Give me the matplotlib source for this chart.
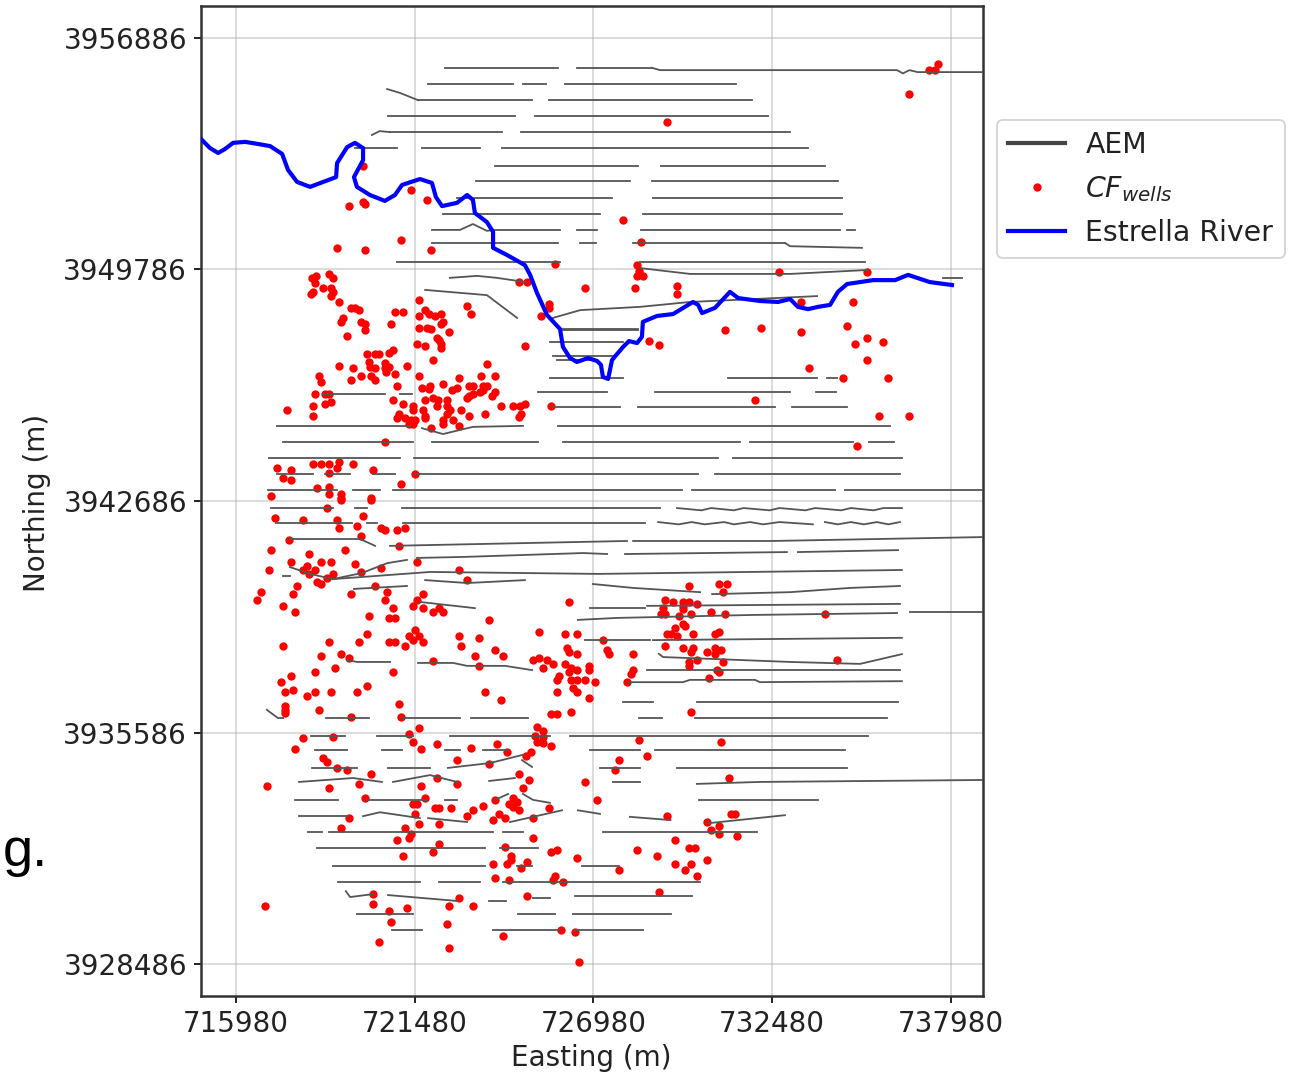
import numpy as np
import matplotlib
matplotlib.use("Agg")
import matplotlib.pyplot as plt
from matplotlib.lines import Line2D

# map coordinates are kept as km above these two bases
base_e = 700000
base_n = 3900000

x_ticks = [715980, 721480, 726980, 732480, 737980]
y_ticks = [3928486, 3935586, 3942686, 3949786, 3956886]

well_e = [
    19.89,21.36,21.86,19.46,19.89,19.95,21.06,19.09,19.95,21.98,
    29.24,37.58,37.49,37.30,36.69,27.89,28.44,
    25.80,18.44,18.32,18.84,18.96,18.41,24.69,24.93,26.72,18.66,
    18.90,18.35,18.29,18.96,18.90,19.15,21.61,25.61,25.61,23.09,
    19.52,19.64,19.76,20.87,21.12,21.80,21.92,22.10,22.29,21.61,
    23.21,25.36,19.27,19.21,19.83,19.95,20.75,22.35,22.29,21.61,
    21.86,21.98,19.95,22.53,19.40,22.16,22.23,21.55,21.80,22.29,
    22.29,24.87,20.81,20.69,20.01,20.26,20.38,22.04,20.07,20.56,
    23.70,19.15,21.24,19.58,20.10,20.26,20.56,20.69,20.60,20.87,
    18.53,19.83,20.13,21.61,23.52,23.95,22.84,19.52,20.26,18.60,
    22.35,20.93,21.70,21.95,21.92,22.78,22.63,23.15,23.27,23.58,
    23.70,23.58,23.49,23.95,23.86,23.27,23.15,23.09,18.41,18.72,
    18.84,20.81,21.80,22.04,22.20,22.47,21.12,21.43,22.16,22.47,
    18.35,18.72,18.90,24.13,24.50,24.72,24.87,25.67,17.55,21.43,
    21.73,22.56,22.90,18.35,21.00,21.80,22.47,23.15,23.64,24.75,
    24.69,20.93,21.18,21.36,21.49,21.80,22.35,22.66,21.30,21.43,
    22.35,22.84,21.98,20.56,18.35,18.60,18.84,19.15,19.58,19.09,
    17.24,17.67,20.20,18.84,21.49,17.43,17.67,21.06,18.47,18.84,
    19.21,18.84,20.13,17.06,19.21,
    28.32,28.38,28.32,28.50,28.26,32.69,35.40,29.55,29.55,33.37,
    34.96,28.69,29.00,31.03,32.13,33.37,34.78,35.40,35.89,35.03,
    35.40,33.61,34.66,36.04,31.95,35.76,36.69,35.09,
    18.78,19.21,20.13,17.18,18.04,19.09,19.89,19.70,19.15,20.44,
    20.56,20.93,21.18,19.83,17.61,21.00,17.06,18.23,19.33,17.67,
    18.60,18.90,19.64,21.55,18.16,16.99,18.04,18.41,20.44,22.84,
    18.23,18.96,19.83,18.78,23.09,18.47,18.60,17.86,20.26,20.63,
    16.75,17.73,19.52,21.73,16.63,20.56,21.55,26.23,17.43,20.81,
    21.43,21.73,22.23,22.04,22.35,17.80,20.07,20.69,20.87,23.77,
    21.49,25.30,20.01,21.30,21.61,22.84,26.10,26.47,23.46,21.43,
    21.73,18.84,19.76,20.69,20.87,17.43,21.18,22.90,26.17,23.95,
    26.23,26.47,19.21,18.60,19.46,23.33,24.20,22.04,25.12,25.30,
    25.55,25.73,23.46,26.10,26.84,19.03,25.43,26.29,26.47,26.84,
    20.81,18.41,26.23,17.67,25.92,25.86,26.29,26.47,26.72,27.03,
    17.36,20.01,26.35,17.73,17.49,18.41,18.90,19.70,23.64,26.47,
    25.86,18.16,26.84,24.13,21.00,17.49,17.49,17.49,18.53,26.29,
    25.67,25.86,19.52,21.06,21.61,25.24,25.43,21.30,18.04,18.96,
    25.18,25.43,21.43,22.16,24.01,25.24,25.43,17.80,25.67,21.67,
    23.21,
    27.27,27.40,27.46,28.20,28.20,28.13,28.01,29.92,30.84,31.09,
    30.97,29.18,29.43,29.73,29.92,30.16,29.73,29.12,29.73,29.06,
    29.18,29.61,29.98,30.60,31.03,34.10,29.73,29.80,29.49,29.24,
    29.37,29.55,30.04,30.72,30.84,29.18,29.73,30.04,30.72,30.90,
    29.98,30.47,30.72,34.47,30.16,29.92,30.97,29.92,30.78,30.84,
    30.53,29.98,28.38,30.90,
    18.66,18.78,19.09,19.40,20.13,22.78,23.77,24.32,24.90,25.06,
    24.69,25.00,26.72,22.16,19.76,21.67,22.78,16.93,18.84,24.81,
    21.80,19.95,23.95,24.50,27.09,21.43,21.55,24.38,24.63,22.10,
    22.23,22.60,23.58,24.50,24.69,25.61,23.27,21.49,23.09,24.07,
    24.26,25.12,19.46,23.89,21.61,22.23,19.21,21.18,21.36,21.30,
    20.93,25.12,22.23,24.26,22.04,25.67,25.86,21.12,24.44,24.44,
    26.47,23.89,24.32,24.93,24.75,23.95,24.38,25.80,25.73,26.04,
    20.20,22.84,24.93,16.87,20.20,21.24,20.69,22.53,23.27,20.75,
    22.47,25.98,26.41,24.20,20.38,22.53,26.53,
    27.77,28.63,27.64,31.15,31.21,31.33,29.24,30.47,30.84,30.60,
    30.84,31.40,29.49,29.92,30.10,28.32,28.93,30.47,29.49,29.98,
    29.80,27.77,30.16,29.00,
]
well_n = [
    52.96,52.22,51.92,51.73,51.86,51.80,50.69,50.45,50.38,50.38,
    54.31,56.09,55.90,55.90,55.17,51.30,50.63,
    49.95,49.59,49.53,49.65,49.53,49.37,49.40,49.40,49.22,49.22,
    49.22,49.10,49.04,49.10,48.97,48.79,48.85,48.73,48.61,48.67,
    48.61,48.61,48.54,48.48,48.48,48.54,48.42,48.36,48.42,48.36,
    48.42,48.36,48.30,48.18,48.18,48.11,48.11,48.18,48.11,47.99,
    47.99,47.96,47.93,47.87,47.75,47.69,47.62,47.50,47.44,47.50,
    47.38,47.44,47.32,47.22,47.19,47.19,47.19,47.01,46.95,46.92,
    46.89,46.83,46.83,46.77,46.80,46.77,46.77,46.80,46.64,46.58,
    46.52,46.52,46.52,46.52,46.52,46.52,46.46,46.40,46.40,46.34,
    46.27,46.21,46.15,46.21,46.12,46.15,46.09,46.21,46.21,46.21,
    46.21,46.09,46.03,46.03,45.91,45.97,45.91,45.85,45.97,45.97,
    45.97,45.78,45.78,45.85,45.78,45.78,45.66,45.60,45.60,45.60,
    45.60,45.66,45.72,45.60,45.60,45.60,45.66,45.60,45.48,45.48,
    45.48,45.48,45.48,45.29,45.35,45.29,45.35,45.29,45.35,45.35,
    45.26,45.23,45.23,45.17,45.17,45.23,45.17,45.17,45.05,45.05,
    45.05,44.99,44.92,44.49,43.82,43.82,43.82,43.88,43.82,43.70,
    43.70,43.64,43.64,43.54,43.51,43.39,43.33,43.21,43.09,43.12,
    42.90,42.90,42.78,42.84,42.78,
    49.92,49.74,49.59,49.59,49.22,49.71,49.71,49.28,49.04,48.79,
    48.79,47.59,47.47,47.93,47.99,47.87,48.05,47.69,47.56,47.50,
    47.01,46.77,46.46,46.46,45.78,45.29,45.29,44.37,
    42.47,42.72,42.72,42.17,42.10,42.10,42.23,41.92,41.86,41.86,
    41.80,41.80,41.86,41.61,41.49,41.31,41.18,41.06,41.18,40.81,
    40.81,40.81,40.75,40.81,40.69,40.57,40.57,40.57,40.63,40.57,
    40.45,40.45,40.51,40.33,40.26,40.20,40.14,40.08,40.08,39.89,
    39.89,39.83,39.83,39.83,39.65,39.65,39.65,39.59,39.47,39.40,
    39.47,39.40,39.40,39.28,39.28,39.28,39.16,39.10,39.10,39.04,
    38.73,38.67,38.61,38.55,38.55,38.55,38.61,38.61,38.49,38.42,
    38.36,38.36,38.36,38.36,38.36,38.24,38.24,38.24,38.18,38.12,
    38.05,37.99,37.99,37.93,37.87,37.93,37.93,37.78,37.81,37.87,
    37.81,37.69,37.63,37.69,37.63,37.56,37.56,37.56,37.50,37.50,
    37.44,37.44,37.44,37.32,37.32,37.20,37.20,37.20,37.20,37.13,
    37.13,37.01,36.95,36.89,36.83,36.83,36.83,36.83,36.83,36.83,
    36.83,36.71,36.64,36.58,36.46,36.40,36.28,36.18,36.28,36.21,
    36.15,36.15,36.06,36.06,35.72,35.75,35.63,35.54,35.42,35.45,
    35.48,35.45,35.29,35.23,35.23,35.29,35.26,35.08,35.17,35.08,
    35.11,
    38.42,38.12,37.99,37.99,37.50,37.38,37.13,40.08,40.14,40.14,
    39.89,39.65,39.59,39.59,39.59,39.53,39.47,39.40,39.37,39.22,
    39.22,39.16,39.22,39.28,39.22,39.22,38.91,38.85,38.79,38.61,
    38.61,38.55,38.61,38.61,38.67,38.24,38.18,38.18,38.18,38.12,
    38.05,38.05,37.99,37.81,37.81,37.75,37.75,37.63,37.50,37.44,
    37.26,36.21,35.36,35.29,
    34.80,34.68,34.50,34.44,34.31,34.74,34.62,34.99,34.87,34.99,
    34.31,34.13,34.07,34.19,34.01,33.95,34.01,33.95,33.88,33.88,
    33.58,33.58,33.52,33.58,33.52,33.39,33.39,33.39,33.45,33.27,
    33.27,33.27,33.33,33.30,33.21,33.27,33.21,33.09,33.02,33.09,
    32.96,32.96,32.96,32.90,32.78,32.78,32.66,32.66,32.47,32.35,
    32.29,32.35,32.17,32.07,31.92,31.92,31.98,31.80,31.80,31.68,
    31.74,31.55,31.55,31.61,31.43,31.12,31.06,31.18,31.06,31.00,
    30.63,30.51,30.57,30.26,30.33,30.20,30.11,30.26,30.26,29.77,
    29.71,29.53,29.47,29.35,29.16,28.98,28.55,
    34.74,34.87,34.44,34.19,33.09,33.09,33.02,32.84,32.72,32.59,
    32.47,32.41,32.29,32.04,32.04,31.98,31.80,31.68,31.55,31.55,
    31.37,31.37,31.18,30.69,
]

river_e = [14.93,15.18,15.43,15.64,15.89,16.26,16.63,17.03,17.40,17.58,17.86,18.26,18.66,19.06,19.09,
           19.40,19.64,19.89,19.89,19.61,19.70,20.10,20.56,20.87,21.09,21.64,22.01,22.13,22.32,22.78,
           23.09,23.27,23.33,23.70,23.89,23.89,24.32,24.87,25.03,25.24,25.55,25.95,26.04,26.26,26.47,
           26.81,27.09,27.21,27.27,27.43,27.55,27.89,28.07,28.32,28.47,28.50,28.93,29.43,30.04,30.20,
           30.32,30.72,31.18,31.43,32.10,32.66,33.03,33.27,33.58,33.89,34.26,34.50,34.78,35.58,36.26,
           36.66,37.33,38.01]
river_n = [53.76,53.51,53.36,53.48,53.67,53.70,53.64,53.57,53.33,52.84,52.47,52.32,52.47,52.62,53.05,
           53.54,53.67,53.51,53.14,52.62,52.32,52.07,51.89,52.07,52.38,52.56,52.44,52.01,51.73,51.83,
           52.07,51.92,51.52,51.24,50.94,50.45,50.23,49.92,49.62,49.07,48.39,47.96,47.41,47.07,46.95,
           47.07,46.98,46.86,46.49,46.43,47.01,47.41,47.59,47.53,47.72,48.18,48.36,48.42,48.79,48.70,
           48.45,48.61,49.10,48.91,48.82,48.79,48.88,48.64,48.57,48.64,48.70,49.10,49.34,49.46,49.46,
           49.62,49.40,49.31]

# flight lines: northing of a row and the (start, end) eastings flown along it
aem_rows = [55.97,55.48,54.98,54.49,54.00,53.51,52.96,52.50,51.98,51.49,51.00,50.60,50.02,47.96,47.93,47.56,
            47.13,47.01,46.46,46.03,45.97,45.57,44.99,44.49,44.00,43.51,43.02,42.47,42.01,37.50,36.52,36.03,
            35.48,35.05,34.50,33.52,33.02,32.53,32.04,31.49,31.00,30.02,29.53]
aem_spans = [
    [(22.41,25.89),(26.47,28.78)],
    [(21.89,24.50),(24.81,25.52),(26.10,31.37)],
    [(21.58,25.09),(25.61,31.86)],
    [(20.66,24.56),(25.18,32.35)],
    [(20.72,24.16),(24.75,33.03)],
    [(19.64,20.93),(21.70,23.49),(24.17,33.58)],
    [(23.95,28.35),(29.06,34.10)],
    [(23.37,28.10),(28.78,34.50)],
    [(22.78,27.55),(28.81,34.63)],
    [(22.35,27.18),(28.50,34.63)],
    [(23.89,25.95),(26.47,27.09),(28.44,34.57),(34.78,35.03)],
    [(22.01,25.89),(26.57,27.06),(28.20,32.87)],
    [(20.93,25.95),(28.41,35.33)],
    [(26.01,28.35)],
    [(26.01,28.35)],
    [(25.64,27.89)],
    [(25.73,27.64)],
    [(25.86,26.87)],
    [(25.64,27.89),(31.12,33.86),(34.17,34.47)],
    [(25.27,27.40),(28.87,33.03),(33.83,34.44)],
    [(18.66,20.56),(21.03,21.40)],
    [(25.73,27.80),(28.35,32.56),(33.09,34.78)],
    [(17.24,21.33),(25.89,36.10)],
    [(17.43,21.43),(22.01,25.27),(26.04,31.49),(31.80,34.97),(35.46,36.23)],
    [(17.00,21.03),(21.46,30.81),(31.27,36.47)],
    [(17.24,18.35),(18.72,19.49),(20.20,20.87),(21.49,30.20),(30.72,36.41)],
    [(16.96,19.09),(19.58,20.41),(20.81,29.70),(30.01,34.41),(34.72,38.96)],
    [(17.06,18.96),(19.64,20.01),(21.09,29.03)],
    [(17.21,19.55),(20.01,20.32),(21.12,28.56)],
    [(28.63,36.41)],
    [(27.89,28.81),(30.16,36.34)],
    [(28.38,29.09),(30.10,36.01),(18.74,20.06),(21.09,22.87),(23.21,24.96)],
    [(18.29,19.33),(20.32,21.43),(22.56,25.64),(26.26,35.43)],
    [(18.41,19.40),(20.47,21.09),(22.41,22.87),(23.58,24.32),(26.87,28.41),(28.87,34.72)],
    [(18.32,19.70),(20.66,21.95),(27.18,28.41),(29.55,34.78)],
    [(17.80,19.12),(20.01,21.86),(22.41,22.78),(30.23,33.89)],
    [(17.92,19.43)],
    [(18.20,18.63),(18.84,23.89),(24.20,24.81),(27.27,32.01)],
    [(18.47,23.64),(24.10,25.27)],
    [(18.96,23.64),(24.63,25.09),(26.63,27.75)],
    [(19.12,21.64),(22.23,23.49),(24.20,30.26)],
    [(19.70,21.43),(24.66,25.80),(26.35,29.35)],
    [(20.78,21.70),(23.89,25.95),(26.41,28.50)],
]

# the parts of the flight lines that bend
aem_bent_e = [
    [28.78,29.03,36.32,36.50,36.70,36.95,38.96],
    [20.63,21.03,21.58],
    [20.16,20.40,20.72],
    [22.01,22.87,23.27,23.70,23.89],
    [32.87,33.03,35.24],
    [22.56,23.40,24.00,24.90],
    [28.41,29.95,33.03,35.40],
    [37.73,38.32],
    [21.80,23.70,24.63],
    [25.73,26.57,28.41,29.95,31.27,33.86],
    [21.70,22.35,23.27,24.81],
    [17.64,19.80,20.26],
    [20.72,28.01],
    [28.20,32.47,38.96],
    [17.43,17.64],
    [17.64,18.26,18.96,19.86,20.63,21.24],
    [21.55,22.96,26.66,27.40],
    [27.95,30.47,32.93],
    [33.27,36.35],
    [18.96,21.95,27.12,36.47],
    [19.61,21.24],
    [21.80,23.09,24.87],
    [26.96,28.20,30.26],
    [30.63,33.03,34.87,36.41],
    [21.64,23.33],
    [26.87,28.56],
    [28.63,36.41],
    [26.50,27.70,31.80,36.32],
    [36.72,38.96],
    [26.72,28.72],
    [28.81,36.47],
    [28.99,29.12,33.03,35.18,36.47],
    [28.04,29.73,29.95,31.95,32.10,36.47],
    [19.40,19.70,20.72],
    [21.58,22.66,23.09,24.26,25.09],
    [29.55,30.30,30.60,31.30,31.60,32.40,32.70,33.50,33.80,34.60,34.90,35.60,35.90,36.47],
    [28.97,29.60,30.00,30.40,31.00,31.30,31.80,32.20,32.70,33.73],
    [34.10,34.50,34.90,35.30,35.70,36.05,36.41],
    [16.93,17.27,17.43],
    [22.50,23.80,24.80],
    [24.78,25.09],
    [17.92,19.58,20.47],
    [20.81,21.95,22.78],
    [23.77,24.56],
    [27.58,28.41],
    [30.16,32.10,38.96],
    [23.95,24.35],
    [24.81,25.12,25.64],
    [19.89,20.41,21.64],
    [21.89,23.09],
    [24.41,25.12,26.01],
    [26.50,27.18],
    [28.10,29.35],
    [30.47,32.01,32.87],
    [19.36,19.49,20.20],
    [20.66,22.78],
    [23.77,24.29],
    [25.12,25.64],
    [26.41,30.01],
]
aem_bent_n = [
    [55.97,55.90,55.90,55.80,55.90,55.84,55.84],
    [55.32,55.20,54.98],
    [53.91,54.03,54.00],
    [51.00,51.00,51.18,50.97,51.00],
    [50.60,50.50,50.45],
    [49.53,49.59,49.53,49.40],
    [49.83,49.65,49.65,49.77],
    [49.53,49.53],
    [49.16,49.00,48.30],
    [48.30,48.54,48.64,48.79,48.85,48.97],
    [44.92,44.74,44.96,44.99],
    [41.52,41.52,41.31],
    [41.31,41.46],
    [41.46,41.46,41.58],
    [40.38,40.38],
    [40.66,40.45,40.29,40.48,40.78,40.88],
    [40.94,40.97,41.09,41.06],
    [41.06,41.09,41.12],
    [41.12,41.18],
    [40.29,40.51,40.45,40.57],
    [39.99,40.08],
    [40.26,40.17,40.26],
    [40.14,40.02,39.89],
    [39.83,39.89,40.02,40.08],
    [39.59,39.40],
    [39.40,39.40],
    [39.47,39.53],
    [39.04,39.10,39.19,39.25],
    [39.28,39.28],
    [38.42,38.42],
    [38.42,38.49],
    [38.00,37.90,37.75,37.69,37.99],
    [37.13,37.13,37.20,37.20,37.13,37.16],
    [37.81,37.75,37.75],
    [37.72,37.72,37.63,37.63,37.50],
    [42.47,42.40,42.47,42.40,42.47,42.40,42.47,42.40,42.47,42.40,42.47,42.40,42.47,42.47],
    [42.04,41.97,42.04,41.97,42.04,41.97,42.04,41.97,42.04,41.97],
    [42.04,41.97,42.04,41.97,42.04,41.97,42.04],
    [36.28,36.03,36.03],
    [34.50,34.65,34.90],
    [34.74,34.53],
    [34.07,34.19,34.07],
    [34.07,34.28,34.07],
    [34.10,34.19],
    [34.07,34.07],
    [34.01,34.07,34.13],
    [33.52,33.70],
    [33.70,33.52,33.43],
    [33.02,33.14,32.96],
    [32.96,32.84],
    [32.84,33.00,33.20],
    [33.20,33.09],
    [33.00,32.90],
    [32.80,32.96,33.05],
    [30.72,30.54,30.63],
    [30.60,30.42],
    [30.42,30.42],
    [30.50,30.50],
    [30.56,30.56],
]

fig = plt.figure(figsize=(12.92, 10.75), dpi=100)
ax = fig.add_axes([201/1292, 79/1075, 782/1292, 990/1075])

ax.plot(np.array(well_e)*1000 + base_e, np.array(well_n)*1000 + base_n, 'o', color='red', ms=6.0, mew=0, zorder=2)

aem_color = '#555555'
for row, spans in zip(aem_rows, aem_spans):
    for start, end in spans:
        ax.plot([start*1000 + base_e, end*1000 + base_e], [row*1000 + base_n]*2, color=aem_color, lw=1.3, zorder=3)
for e, n in zip(aem_bent_e, aem_bent_n):
    ax.plot(np.array(e)*1000 + base_e, np.array(n)*1000 + base_n, color=aem_color, lw=1.3, zorder=3)

ax.plot(np.array(river_e)*1000 + base_e, np.array(river_n)*1000 + base_n, color='blue', lw=3.0, zorder=4,
        solid_joinstyle='round')

ax.set_xlim(714903, 738965)
ax.set_ylim(3927505, 3957867)
ax.set_xticks(x_ticks)
ax.set_yticks(y_ticks)
ax.ticklabel_format(useOffset=False, style='plain')
ax.tick_params(labelsize=20, length=5, width=1.4, pad=5, color='#222222', labelcolor='#222222')
ax.grid(True, color='#b0b0b0', alpha=0.45, lw=1.4)
ax.set_axisbelow(True)
for s in ax.spines.values():
    s.set_linewidth(1.8)
    s.set_color('#333333')

fig.text(591/1292, 1-1058.5/1075, 'Easting (m)', fontsize=20, color='#222222', ha='center', va='center')
fig.text(37/1292, 1-503/1075, 'Northing (m)', fontsize=20, color='#222222', ha='center', va='center', rotation=90)
fig.text(3/1292, 1-866/1075, 'g.', fontsize=39, family='Liberation Sans', color='black', ha='left', va='baseline')

handles = [
    Line2D([], [], color='#444444', lw=3),
    Line2D([], [], marker='o', ls='', color='red', ms=6.0, mew=0),
    Line2D([], [], color='blue', lw=3),
]
labels = ['AEM', r'$CF_{wells}$', 'Estrella River']
leg = fig.legend(handles, labels, loc='upper left', bbox_to_anchor=(997/1292, 1-120/1075), borderaxespad=0,
                 fontsize=20.4, labelcolor='#222222', labelspacing=0.52, handletextpad=0.72)
leg.get_frame().set_linewidth(1.4)

fig.savefig('out.png', dpi=100)
